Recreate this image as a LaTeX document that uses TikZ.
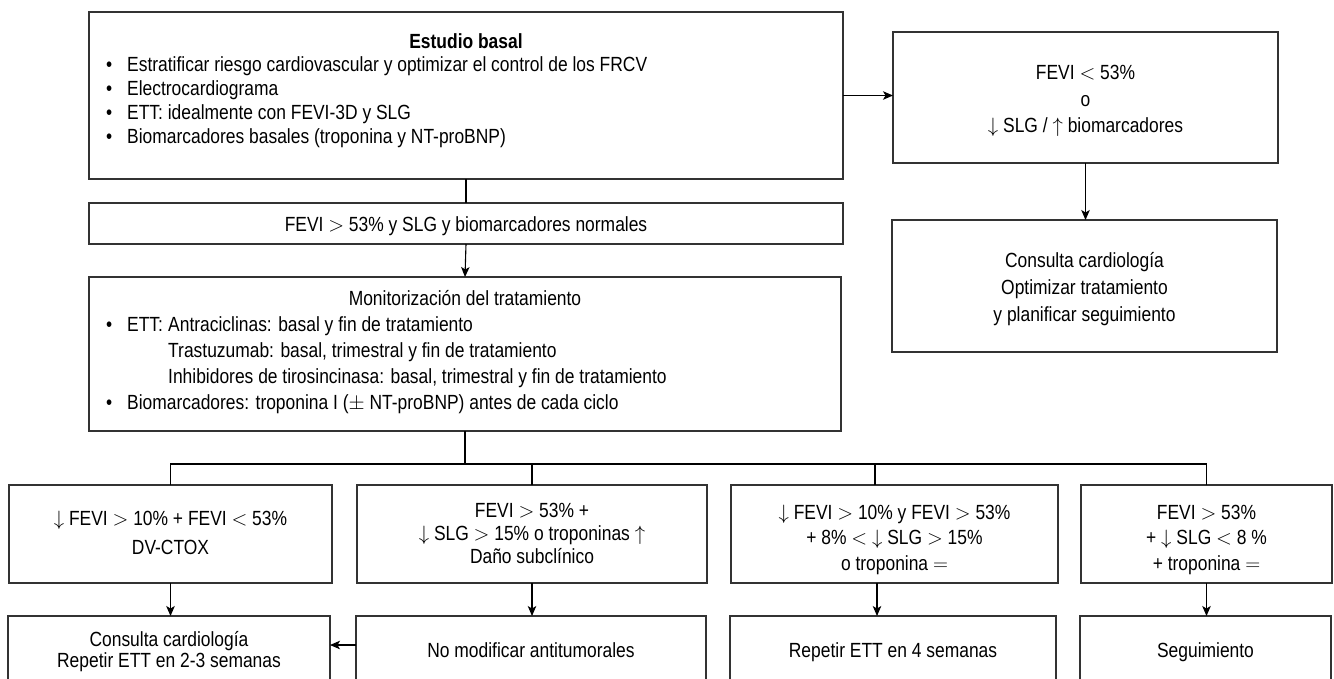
\documentclass[tikz,border=0pt]{standalone}
\usepackage{fontspec}
\setmainfont{Liberation Sans}[FakeStretch=0.85]
\usetikzlibrary{arrows.meta}
\newcommand{\arrdn}{$\downarrow$}
\newcommand{\arrup}{$\uparrow$}
\newcommand{\bul}{\makebox[21pt][l]{•}}
\begin{document}
\begin{tikzpicture}[x=1pt,y=-1pt,
  box/.style={draw=black!80, line width=1.1pt, inner sep=0pt, outer sep=0pt},
  lbl/.style={inner sep=0pt, font=\fontsize{20.5}{24}\selectfont, text height=14.7pt, text depth=0pt},
  link/.style={draw=black, line width=1.1pt},
  arr/.style={link, -{Stealth[length=10pt,width=8.5pt,inset=2.5pt]}}]
\fill[white] (0,0) rectangle (1334,678);
\useasboundingbox (0,0) rectangle (1334,678);

% ---- baseline study ----
\node[box, minimum width=754pt, minimum height=167pt] (b1) at (466,95.5) {};
\node[lbl] (t1) at (466,41) {\bfseries Estudio basal};
\node[lbl, anchor=west] (t1a) at (106,64) {\bul Estratificar riesgo cardiovascular y optimizar el control de los FRCV};
\node[lbl, anchor=west] (t1b) at (106,88) {\bul Electrocardiograma};
\node[lbl, anchor=west] (t1c) at (106,112) {\bul ETT: idealmente con FEVI-3D y SLG};
\node[lbl, anchor=west] (t1d) at (106,136) {\bul Biomarcadores basales (troponina y NT-proBNP)};

% ---- abnormal branch (right) ----
\node[box, minimum width=385pt, minimum height=131pt] (bA) at (1085.5,97.5) {};
\node[lbl] (tA1) at (1085.5,72) {FEVI $<$ 53\%};
\node[lbl] (tA2) at (1085.5,99) {o};
\node[lbl] (tA3) at (1085.5,125) {\arrdn{} SLG / \arrup{} biomarcadores};
\node[box, minimum width=385pt, minimum height=132pt] (bB) at (1084.5,286) {};
\node[lbl] (tB1) at (1084.5,260) {Consulta cardiología};
\node[lbl] (tB2) at (1084.5,287) {Optimizar tratamiento};
\node[lbl] (tB3) at (1084.5,314) {y planificar seguimiento};

% ---- normal branch ----
\node[box, minimum width=754pt, minimum height=41pt] (bN) at (466,223.5) {};
\node[lbl] (tN) at (466,224) {FEVI $>$ 53\% y SLG y biomarcadores normales};

\node[box, minimum width=752pt, minimum height=154pt] (bM) at (465,354) {};
\node[lbl] (tM) at (465,298) {Monitorización del tratamiento};
\node[lbl, anchor=west] (tMa) at (106,324) {\bul\makebox[41pt][l]{ETT:}Antraciclinas: basal y fin de tratamiento};
\node[lbl, anchor=west] (tMb) at (168,350) {Trastuzumab: basal, trimestral y fin de tratamiento};
\node[lbl, anchor=west] (tMc) at (168,376) {Inhibidores de tirosincinasa: basal, trimestral y fin de tratamiento};
\node[lbl, anchor=west] (tMd) at (106,402) {\bul Biomarcadores: troponina I ($\pm$ NT-proBNP) antes de cada ciclo};

% ---- outcome conditions ----
\node[box, minimum width=323pt, minimum height=98pt] (L1) at (170.5,534) {};
\node[lbl] (tL1a) at (170.5,518) {\arrdn{} FEVI $>$ 10\% + FEVI $<$ 53\%};
\node[lbl] (tL1b) at (170.5,547) {DV-CTOX};
\node[box, minimum width=350pt, minimum height=98pt] (L2) at (532,534) {};
\node[lbl] (tL2a) at (532,510) {FEVI $>$ 53\% +};
\node[lbl] (tL2b) at (532,533) {\arrdn{} SLG $>$ 15\% o troponinas \arrup};
\node[lbl] (tL2c) at (532,556) {Daño subclínico};
\node[box, minimum width=327pt, minimum height=98pt] (L3) at (894.5,534) {};
\node[lbl] (tL3a) at (894.5,512) {\arrdn{} FEVI $>$ 10\% y FEVI $>$ 53\%};
\node[lbl] (tL3b) at (894.5,537) {+ 8\% $<$ \arrdn{} SLG $>$ 15\%};
\node[lbl] (tL3c) at (894.5,563) {o troponina $=$};
\node[box, minimum width=251pt, minimum height=98pt] (L4) at (1206.5,534) {};
\node[lbl] (tL4a) at (1206.5,512) {FEVI $>$ 53\%};
\node[lbl] (tL4b) at (1206.5,537) {+ \arrdn{} SLG $<$ 8 \%};
\node[lbl] (tL4c) at (1206.5,563) {+ troponina $=$};

% ---- actions ----
\node[box, minimum width=322pt, minimum height=74pt] (R1) at (169,653) {};
\node[lbl] (tR1a) at (169,639) {Consulta cardiología};
\node[lbl] (tR1b) at (169,660) {Repetir ETT en 2-3 semanas};
\node[box, minimum width=350pt, minimum height=74pt] (R2) at (531,653) {};
\node[lbl] (tR2) at (531,650) {No modificar antitumorales};
\node[box, minimum width=326pt, minimum height=74pt] (R3) at (893,653) {};
\node[lbl] (tR3) at (893,650) {Repetir ETT en 4 semanas};
\node[box, minimum width=251pt, minimum height=74pt] (R4) at (1205.5,653) {};
\node[lbl] (tR4) at (1205.5,650) {Seguimiento};

% ---- connectors ----
\draw[link] (b1.south) -- (bN.north);
\draw[arr] (bN.south) -- (bM.north);
\draw[arr] (b1.east) -- (b1.east -| bA.west);
\draw[arr] (bA.south) -- (bA.south |- bB.north);

\coordinate (j) at (465,464);
\coordinate (t3) at (875,485);
\coordinate (d3) at (877,583);
\draw[link] (bM.south) -- (bM.south |- j);
\draw[link] (L1.north) |- (j) -| (L4.north);
\draw[link] (L2.north) -- (L2.north |- j);
\draw[link] (t3) -- (t3 |- j);

\draw[arr] (L1.south) -- (L1.south |- R1.north);
\draw[arr] (L2.south) -- (L2.south |- R2.north);
\draw[arr] (d3) -- (d3 |- R3.north);
\draw[arr] (L4.south) -- (L4.south |- R4.north);

\coordinate (r2w) at (356,645);
\draw[arr] (r2w) -- (r2w -| R1.east);
\end{tikzpicture}
\end{document}
